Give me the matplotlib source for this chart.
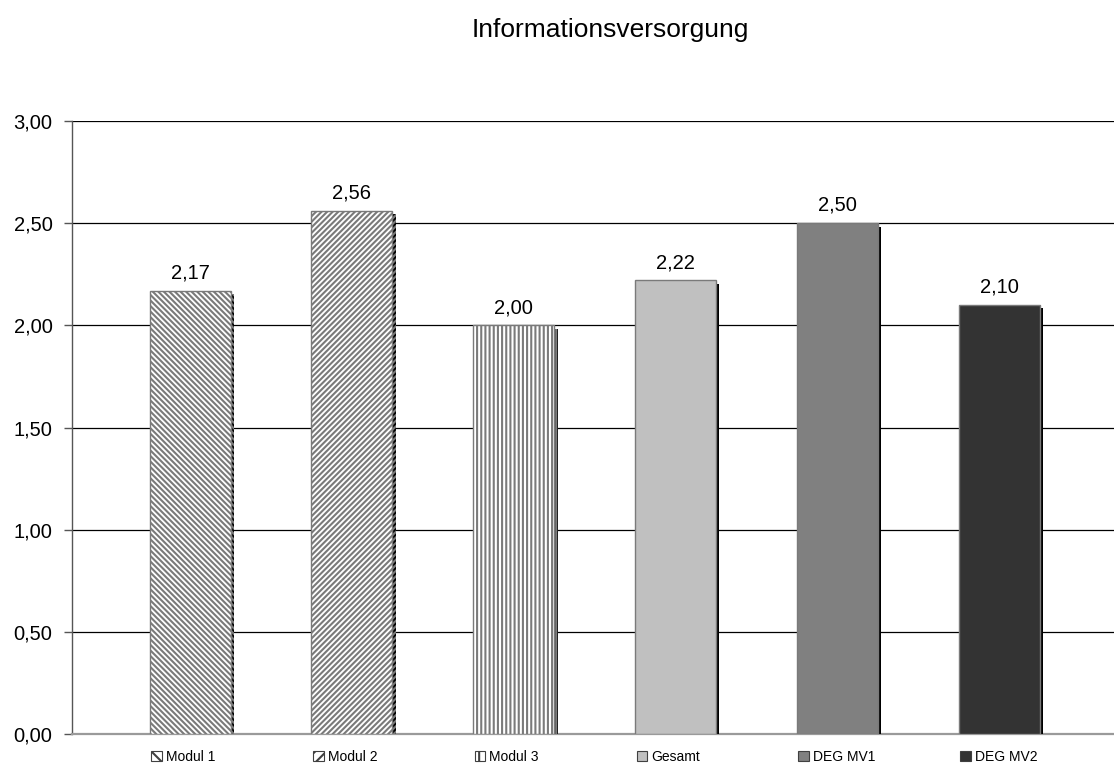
import matplotlib
matplotlib.use("Agg")
import matplotlib.pyplot as plt
import matplotlib.patheffects as pe
import matplotlib.transforms as mtransforms
from matplotlib.patches import Patch
from matplotlib.legend import Legend
from matplotlib.ticker import FuncFormatter

plt.rcParams['font.family'] = ['Liberation Sans', 'DejaVu Sans']
plt.rcParams['hatch.linewidth'] = 1.5

# Data
title = "Informationsversorgung"
categories = ["Modul 1", "Modul 2", "Modul 3", "Gesamt", "DEG MV1", "DEG MV2"]
values = [2.17, 2.56, 2.00, 2.22, 2.50, 2.10]
y_ticks = [0.0, 0.5, 1.0, 1.5, 2.0, 2.5, 3.0]

# Styling per bar
face_colors = ["white", "white", "white", "#c0c0c0", "#808080", "#333333"]
hatches = ["\\" * 6, "/" * 6, "|" * 4, None, None, None]
legend_hatches = ["\\" * 3, "/" * 3, "|" * 2, None, None, None]
edge_color = "#7a7a7a"


def de_fmt(v, _pos=None):
    return f"{v:.2f}".replace(".", ",")


fig = plt.figure(figsize=(11.14, 7.69), dpi=100)
ax = fig.add_axes([72 / 1114, 1 - 734 / 769, 1 - 72 / 1114, (734 - 121) / 769])

x = list(range(len(categories)))
bars = ax.bar(x, values, width=0.5, color=face_colors, edgecolor=edge_color,
              linewidth=1.0, zorder=3)
for bar, h in zip(bars, hatches):
    if h:
        bar.set_hatch(h)
    bar.set_path_effects([
        pe.SimplePatchShadow(offset=(2.4, -2.4), shadow_rgbFace="black", alpha=1.0),
        pe.Normal(),
    ])

ax.bar_label(bars, labels=[de_fmt(v) for v in values], padding=6, fontsize=14.5)

ax.set_xlim(-0.73, 5.71)
ax.set_ylim(0, 3.0)
ax.set_yticks(y_ticks)
ax.yaxis.set_major_formatter(FuncFormatter(de_fmt))
ax.set_xticks([])
ax.grid(axis="y", color="black", linewidth=0.9, zorder=0)
ax.set_axisbelow(True)

for s in ("top", "right"):
    ax.spines[s].set_visible(False)
ax.spines["left"].set_color("#555555")
ax.spines["left"].set_linewidth(1.0)
ax.spines["bottom"].set_color("#9a9a9a")
ax.spines["bottom"].set_linewidth(1.6)
ax.tick_params(axis="y", direction="out", length=6, width=1.0, color="#555555",
               pad=8, labelsize=14.5)

fig.text(610 / 1114, 1 - 30 / 769, title, ha="center", va="center", fontsize=19)

# Legend entries placed under each bar
trans = mtransforms.blended_transform_factory(ax.transData, fig.transFigure)
for i, (cat, fc, h) in enumerate(zip(categories, face_colors, legend_hatches)):
    handle = Patch(facecolor=fc, edgecolor="#404040", hatch=h, linewidth=0.8)
    leg = Legend(ax, [handle], [cat], loc="center left",
                 bbox_to_anchor=(i - 0.24, 1 - 757 / 769),
                 bbox_transform=trans, frameon=False, fontsize=10,
                 handlelength=0.75, handleheight=0.75, handletextpad=0.3,
                 borderpad=0, borderaxespad=0)
    ax.add_artist(leg)

fig.savefig("out.png", dpi=100)
